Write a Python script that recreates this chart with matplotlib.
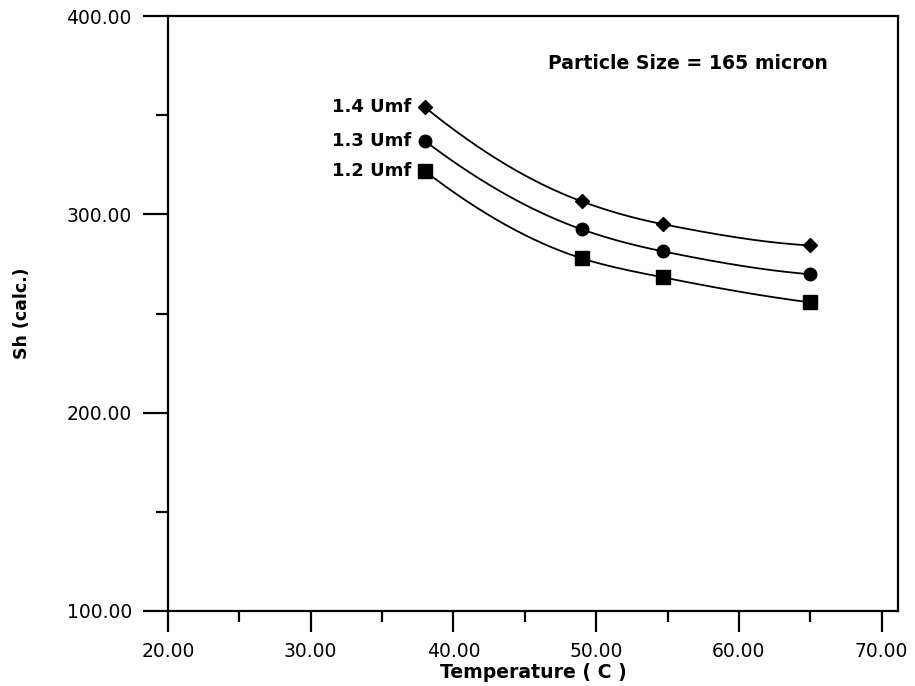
import numpy as np
import matplotlib
matplotlib.use("Agg")
import matplotlib.pyplot as plt
from matplotlib.ticker import MultipleLocator, FormatStrFormatter

temperature = [38.0, 49.0, 54.7, 65.0]
sh_14 = [354.0, 306.5, 295.0, 284.3]
sh_13 = [337.0, 292.4, 281.3, 269.8]
sh_12 = [321.8, 277.8, 268.2, 255.6]
series_labels = ["1.4 Umf", "1.3 Umf", "1.2 Umf"]
markers = ["D", "o", "s"]
marker_sizes = [7.5, 9, 10]


def pchip(x, y, xs):
    x = np.asarray(x, float)
    y = np.asarray(y, float)
    h = np.diff(x)
    d = np.diff(y) / h
    n = len(x)
    m = np.zeros(n)
    for k in range(1, n - 1):
        if d[k - 1] * d[k] > 0:
            w1 = 2 * h[k] + h[k - 1]
            w2 = h[k] + 2 * h[k - 1]
            m[k] = (w1 + w2) / (w1 / d[k - 1] + w2 / d[k])
    m[0] = ((2 * h[0] + h[1]) * d[0] - h[0] * d[1]) / (h[0] + h[1])
    if np.sign(m[0]) != np.sign(d[0]):
        m[0] = 0
    m[-1] = ((2 * h[-1] + h[-2]) * d[-1] - h[-1] * d[-2]) / (h[-1] + h[-2])
    if np.sign(m[-1]) != np.sign(d[-1]):
        m[-1] = 0
    out = np.empty_like(xs)
    for i, xv in enumerate(xs):
        k = int(np.clip(np.searchsorted(x, xv, side="right") - 1, 0, n - 2))
        t = (xv - x[k]) / h[k]
        out[i] = ((2 * t**3 - 3 * t**2 + 1) * y[k] + (t**3 - 2 * t**2 + t) * h[k] * m[k]
                  + (-2 * t**3 + 3 * t**2) * y[k + 1] + (t**3 - t**2) * h[k] * m[k + 1])
    return out


plt.rcParams["font.family"] = ["DejaVu Sans"]
fig = plt.figure(figsize=(9.15, 6.86), dpi=100)
ax = fig.add_axes([168 / 915, 1 - 611 / 686, (898 - 168) / 915, (611 - 16) / 686])

xs = np.linspace(temperature[0], temperature[-1], 300)
for vals, lab, mk, ms in zip([sh_14, sh_13, sh_12], series_labels, markers, marker_sizes):
    ax.plot(xs, pchip(temperature, vals, xs), color="black", lw=1.3)
    ax.plot(temperature, vals, linestyle="none", marker=mk, color="black", ms=ms)
    ax.annotate(lab, (temperature[0], vals[0]), xytext=(-10, 0), textcoords="offset points",
                ha="right", va="center", fontsize=13, fontweight="bold")

ax.text(0.712, 0.921, "Particle Size = 165 micron", transform=ax.transAxes,
        ha="center", va="center", fontsize=13.6, fontweight="bold")

ax.set_xlim(20, 71.15)
ax.set_ylim(100, 400)
ax.xaxis.set_minor_locator(MultipleLocator(5))
ax.yaxis.set_major_locator(MultipleLocator(100))
ax.yaxis.set_minor_locator(MultipleLocator(50))
ax.set_xticks([20, 30, 40, 50, 60, 70])
ax.xaxis.set_major_formatter(FormatStrFormatter("%.2f"))
ax.yaxis.set_major_formatter(FormatStrFormatter("%.2f"))
ax.tick_params(axis="x", which="major", direction="out", length=15, width=1.6, labelsize=13.5, pad=7)
ax.tick_params(axis="x", which="minor", direction="out", length=8, width=1.6)
ax.tick_params(axis="y", which="major", direction="out", length=18, width=1.6, labelsize=13.5, pad=8)
ax.tick_params(axis="y", which="minor", direction="out", length=9, width=1.6)
for sp in ax.spines.values():
    sp.set_linewidth(1.6)

ax.set_xlabel("Temperature ( C )", fontsize=13.6, fontweight="bold", labelpad=2)
ax.set_ylabel("Sh (calc.)", fontsize=12.5, fontweight="bold")
ax.yaxis.set_label_coords((31 - 168) / (898 - 168), 0.5)

fig.savefig("out.png", dpi=100)
